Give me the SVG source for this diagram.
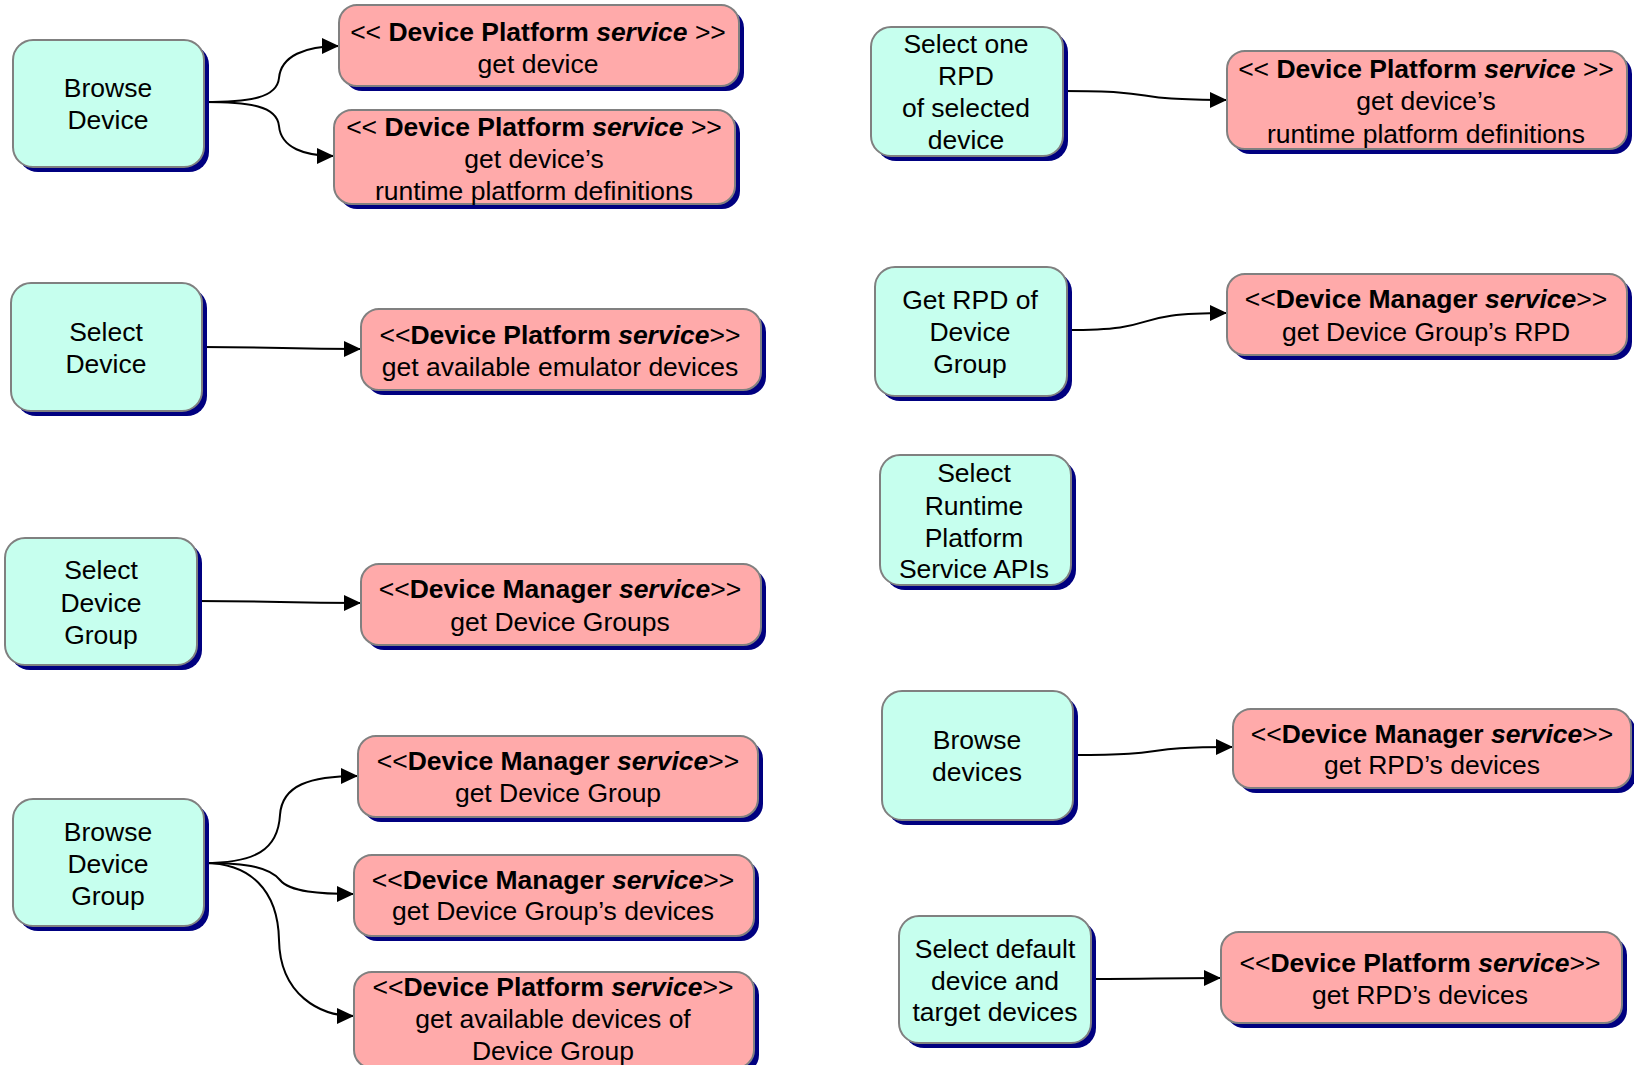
<svg xmlns="http://www.w3.org/2000/svg" width="1634" height="1065" viewBox="0 0 1634 1065">
<style>
.sh{fill:#000080}
.c{fill:#C6FFEE;stroke:#808080;stroke-width:2}
.p{fill:#FFAAAA;stroke:#808080;stroke-width:2}
text{font-family:"Liberation Sans",Arial,sans-serif;font-size:26.5px;fill:#000;text-anchor:middle}
.b{font-weight:bold}
.bi{font-weight:bold;font-style:italic}
.e{fill:none;stroke:#000;stroke-width:2}
</style>
<defs>
<marker id="ah" markerUnits="userSpaceOnUse" markerWidth="17" markerHeight="16" refX="17" refY="8" orient="auto">
<path d="M0,0 L17,8 L0,16 z" fill="#000"/>
</marker>
</defs>
<rect width="1634" height="1065" fill="#fff"/>
<g id="connectors">
<path class="e" marker-end="url(#ah)" d="M204,102 C250,102 277,98 279,78 C281,56 305,46 339,46"/>
<path class="e" marker-end="url(#ah)" d="M204,102 C250,102 277,106 279,126 C281,148 305,156 334,156"/>
<path class="e" marker-end="url(#ah)" d="M202,347 C285,347 280,349 361,349"/>
<path class="e" marker-end="url(#ah)" d="M197,601 C280,601 280,603 361,603"/>
<path class="e" marker-end="url(#ah)" d="M204,863 C255,863 278,850 280,815 C282,785 310,776 358,776"/>
<path class="e" marker-end="url(#ah)" d="M204,863 C250,863 270,868 280,880 C290,892 320,894 354,894"/>
<path class="e" marker-end="url(#ah)" d="M204,863 C250,863 278,890 279,940 C280,995 320,1016 354,1016"/>
<path class="e" marker-end="url(#ah)" d="M1063,91 C1170,91 1120,100 1227,100"/>
<path class="e" marker-end="url(#ah)" d="M1067,330 C1170,330 1120,313 1227,313"/>
<path class="e" marker-end="url(#ah)" d="M1073,755 C1180,755 1130,747 1233,747"/>
<path class="e" marker-end="url(#ah)" d="M1091,979 C1160,979 1150,978 1221,978"/>
</g>
<g id="n1"><rect class="sh" x="18" y="45" width="191" height="127" rx="20"/><rect class="c" x="13" y="40" width="191" height="127" rx="20"/><text x="108" y="97">Browse</text><text x="108" y="129">Device</text></g>
<g id="n2"><rect class="sh" x="16" y="288" width="191" height="128" rx="20"/><rect class="c" x="11" y="283" width="191" height="128" rx="20"/><text x="106" y="341">Select</text><text x="106" y="373">Device</text></g>
<g id="n3"><rect class="sh" x="10" y="543" width="192" height="127" rx="20"/><rect class="c" x="5" y="538" width="192" height="127" rx="20"/><text x="101" y="579">Select</text><text x="101" y="612">Device</text><text x="101" y="644">Group</text></g>
<g id="n4"><rect class="sh" x="18" y="804" width="191" height="127" rx="20"/><rect class="c" x="13" y="799" width="191" height="127" rx="20"/><text x="108" y="841">Browse</text><text x="108" y="873">Device</text><text x="108" y="905">Group</text></g>
<g id="n5"><rect class="sh" x="876" y="32" width="192" height="129" rx="20"/><rect class="c" x="871" y="27" width="192" height="129" rx="20"/><text x="966" y="53">Select one</text><text x="966" y="85">RPD</text><text x="966" y="117">of selected</text><text x="966" y="149">device</text></g>
<g id="n6"><rect class="sh" x="880" y="272" width="192" height="129" rx="20"/><rect class="c" x="875" y="267" width="192" height="129" rx="20"/><text x="970" y="309">Get RPD of</text><text x="970" y="341">Device</text><text x="970" y="373">Group</text></g>
<g id="n7"><rect class="sh" x="885" y="460" width="191" height="130" rx="20"/><rect class="c" x="880" y="455" width="191" height="130" rx="20"/><text x="974" y="482">Select</text><text x="974" y="515">Runtime</text><text x="974" y="547">Platform</text><text x="974" y="578">Service APIs</text></g>
<g id="n8"><rect class="sh" x="887" y="696" width="191" height="129" rx="20"/><rect class="c" x="882" y="691" width="191" height="129" rx="20"/><text x="977" y="749">Browse</text><text x="977" y="781">devices</text></g>
<g id="n9"><rect class="sh" x="904" y="921" width="192" height="127" rx="20"/><rect class="c" x="899" y="916" width="192" height="127" rx="20"/><text x="995" y="958">Select default</text><text x="995" y="990">device and</text><text x="995" y="1021">target devices</text></g>
<g id="p1"><rect class="sh" x="344" y="10" width="400" height="81" rx="18"/><rect class="p" x="339" y="5" width="400" height="81" rx="18"/><text x="538" y="41">&lt;&lt; <tspan class="b">Device Platform </tspan><tspan class="bi">service</tspan> &gt;&gt;</text><text x="538" y="73">get device</text></g>
<g id="p2"><rect class="sh" x="339" y="115" width="401" height="94" rx="18"/><rect class="p" x="334" y="110" width="401" height="94" rx="18"/><text x="534" y="136">&lt;&lt; <tspan class="b">Device Platform </tspan><tspan class="bi">service</tspan> &gt;&gt;</text><text x="534" y="168">get device’s</text><text x="534" y="200">runtime platform definitions</text></g>
<g id="p3"><rect class="sh" x="366" y="314" width="400" height="81" rx="18"/><rect class="p" x="361" y="309" width="400" height="81" rx="18"/><text x="560" y="344">&lt;&lt;<tspan class="b">Device Platform </tspan><tspan class="bi">service</tspan>&gt;&gt;</text><text x="560" y="376">get available emulator devices</text></g>
<g id="p4"><rect class="sh" x="366" y="569" width="400" height="81" rx="18"/><rect class="p" x="361" y="564" width="400" height="81" rx="18"/><text x="560" y="598">&lt;&lt;<tspan class="b">Device Manager </tspan><tspan class="bi">service</tspan>&gt;&gt;</text><text x="560" y="631">get Device Groups</text></g>
<g id="p5"><rect class="sh" x="363" y="741" width="400" height="81" rx="18"/><rect class="p" x="358" y="736" width="400" height="81" rx="18"/><text x="558" y="770">&lt;&lt;<tspan class="b">Device Manager </tspan><tspan class="bi">service</tspan>&gt;&gt;</text><text x="558" y="802">get Device Group</text></g>
<g id="p6"><rect class="sh" x="359" y="860" width="400" height="81" rx="18"/><rect class="p" x="354" y="855" width="400" height="81" rx="18"/><text x="553" y="889">&lt;&lt;<tspan class="b">Device Manager </tspan><tspan class="bi">service</tspan>&gt;&gt;</text><text x="553" y="920">get Device Group’s devices</text></g>
<g id="p7"><rect class="sh" x="359" y="977" width="400" height="96" rx="18"/><rect class="p" x="354" y="972" width="400" height="96" rx="18"/><text x="553" y="996">&lt;&lt;<tspan class="b">Device Platform </tspan><tspan class="bi">service</tspan>&gt;&gt;</text><text x="553" y="1028">get available devices of</text><text x="553" y="1060">Device Group</text></g>
<g id="r1"><rect class="sh" x="1232" y="56" width="400" height="98" rx="18"/><rect class="p" x="1227" y="51" width="400" height="98" rx="18"/><text x="1426" y="78">&lt;&lt; <tspan class="b">Device Platform </tspan><tspan class="bi">service</tspan> &gt;&gt;</text><text x="1426" y="110">get device’s</text><text x="1426" y="143">runtime platform definitions</text></g>
<g id="r2"><rect class="sh" x="1232" y="279" width="400" height="81" rx="18"/><rect class="p" x="1227" y="274" width="400" height="81" rx="18"/><text x="1426" y="308">&lt;&lt;<tspan class="b">Device Manager </tspan><tspan class="bi">service</tspan>&gt;&gt;</text><text x="1426" y="341">get Device Group’s RPD</text></g>
<g id="r3"><rect class="sh" x="1238" y="714" width="398" height="79" rx="18"/><rect class="p" x="1233" y="709" width="398" height="79" rx="18"/><text x="1432" y="743">&lt;&lt;<tspan class="b">Device Manager </tspan><tspan class="bi">service</tspan>&gt;&gt;</text><text x="1432" y="774">get RPD’s devices</text></g>
<g id="r4"><rect class="sh" x="1226" y="937" width="401" height="91" rx="18"/><rect class="p" x="1221" y="932" width="401" height="91" rx="18"/><text x="1420" y="972">&lt;&lt;<tspan class="b">Device Platform </tspan><tspan class="bi">service</tspan>&gt;&gt;</text><text x="1420" y="1004">get RPD’s devices</text></g>
</svg>
